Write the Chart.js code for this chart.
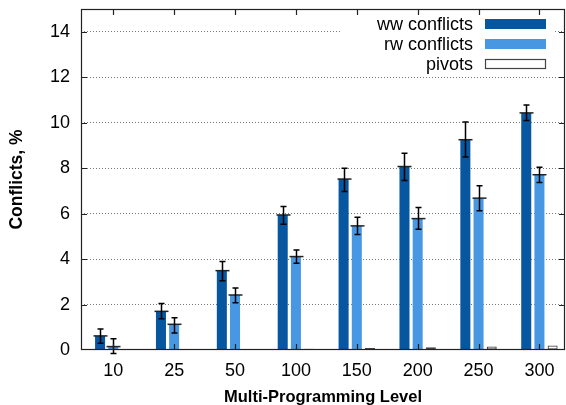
<!DOCTYPE html>
<html><head><meta charset="utf-8">
<script src="https://cdn.jsdelivr.net/npm/chart.js@4/dist/chart.umd.min.js"></script>
<style>html,body{margin:0;padding:0;background:#fff}#wrap{width:566px;height:405px}</style>
</head><body><div id="wrap"><canvas id="c" width="566" height="405"></canvas></div>
<script>
const categories = ['10','25','50','100','150','200','250','300'];
const wwValues = [0.62, 1.70, 3.49, 5.94, 7.52, 8.07, 9.25, 10.43];
const wwLow    = [0.30, 1.38, 3.05, 5.53, 6.97, 7.46, 8.49, 10.10];
const wwHigh   = [0.92, 2.04, 3.89, 6.31, 8.00, 8.66, 10.03, 10.78];
const rwValues = [0.15, 1.13, 2.42, 4.11, 5.46, 5.78, 6.68, 7.71];
const rwLow    = [-0.15, 0.75, 2.08, 3.82, 5.08, 5.31, 6.13, 7.37];
const rwHigh   = [0.50, 1.42, 2.73, 4.40, 5.84, 6.27, 7.22, 8.04];
const pivotValues = [0.004, 0.006, 0.02, 0.05, 0.09, 0.12, 0.15, 0.20];
const yTicks = [0, 2, 4, 6, 8, 10, 12, 14];
const seriesLabels = ['ww conflicts', 'rw conflicts', 'pivots'];

const FAMILY = '"Liberation Sans", Arial, Helvetica, sans-serif';
const WW = '#0656a0', RW = '#4897e2';

const errorBars = {
  id: 'errorBars',
  afterDatasetsDraw(chart) {
    const ctx = chart.ctx, y = chart.scales.y;
    [[0, wwValues, wwLow, wwHigh], [1, rwValues, rwLow, rwHigh]].forEach(([di, vals, lo, hi]) => {
      chart.getDatasetMeta(di).data.forEach((bar, i) => {
        const x = Math.round(bar.x) + 0.5;
        const yv = y.getPixelForValue(vals[i]);
        const yl = y.getPixelForValue(lo[i]);
        const yh = y.getPixelForValue(hi[i]);
        ctx.save();
        ctx.strokeStyle = '#222'; ctx.lineWidth = 1.5;
        ctx.beginPath();
        ctx.moveTo(x - 7, yv); ctx.lineTo(x + 7, yv);
        ctx.stroke();
        ctx.strokeStyle = '#000';
        ctx.beginPath();
        ctx.moveTo(x, yl); ctx.lineTo(x, yh);
        ctx.moveTo(x - 3, yl); ctx.lineTo(x + 3, yl);
        ctx.moveTo(x - 3, yh); ctx.lineTo(x + 3, yh);
        ctx.stroke();
        ctx.restore();
      });
    });
  }
};

const frame = {
  id: 'frame',
  afterDraw(chart) {
    const ctx = chart.ctx, a = chart.chartArea, x = chart.scales.x, y = chart.scales.y;
    ctx.save();
    ctx.fillStyle = '#fff';
    ctx.fillRect(341, 15, 214, 57);
    const rows = [24, 44, 64];
    const fills = [WW, RW, '#fff'];
    ctx.font = '18px ' + FAMILY;
    ctx.textAlign = 'right'; ctx.textBaseline = 'middle';
    seriesLabels.forEach((t, i) => {
      ctx.fillStyle = '#000';
      ctx.fillText(t, 473, rows[i] + 1);
      ctx.fillStyle = fills[i];
      ctx.fillRect(485, rows[i] - 5, 61, 10);
      if (i === 2) {
        ctx.strokeStyle = '#444'; ctx.lineWidth = 1.2;
        ctx.strokeRect(485.5, rows[i] - 4.5, 60, 9);
      }
    });
    ctx.strokeStyle = '#222'; ctx.lineWidth = 1.2;
    ctx.strokeRect(a.left + 0.5, a.top + 0.5, a.right - a.left - 1, a.bottom - a.top - 1);
    ctx.beginPath();
    yTicks.forEach(v => {
      if (v === 0) return;
      const py = Math.round(y.getPixelForValue(v)) + 0.5;
      ctx.moveTo(a.left, py); ctx.lineTo(a.left + 6, py);
      ctx.moveTo(a.right, py); ctx.lineTo(a.right - 6, py);
    });
    categories.forEach((c, i) => {
      const px = Math.round(x.getPixelForValue(i)) + 0.5;
      ctx.moveTo(px, a.top); ctx.lineTo(px, a.top + 6);
      ctx.moveTo(px, a.bottom); ctx.lineTo(px, a.bottom - 6);
    });
    ctx.stroke();
    ctx.restore();
  }
};

const toPoints = vals => vals.map((v, i) => ({ x: i, y: v }));
const noPad = s => { s.paddingTop = 0; s.paddingBottom = 0; s.paddingLeft = 0; s.paddingRight = 0; };

new Chart(document.getElementById('c'), {
  type: 'bar',
  data: {
    datasets: [
      { label: seriesLabels[0], data: toPoints(wwValues), backgroundColor: WW, borderWidth: 0 },
      { label: seriesLabels[1], data: toPoints(rwValues), backgroundColor: RW, borderWidth: 0 },
      { label: seriesLabels[2], data: toPoints(pivotValues), backgroundColor: '#fff', borderColor: '#444', borderWidth: 1.2, borderSkipped: false }
    ]
  },
  options: {
    responsive: false, animation: false, devicePixelRatio: 1,
    layout: { padding: { left: 0, right: 1, top: 9, bottom: 0 } },
    plugins: { legend: { display: false }, tooltip: { enabled: false } },
    datasets: { bar: { categoryPercentage: 0.65, barPercentage: 0.76, grouped: true } },
    scales: {
      x: {
        type: 'linear', min: -0.53, max: 7.42, offset: false,
        grid: { display: false }, border: { display: false },
        afterBuildTicks: s => { s.ticks = categories.map((c, i) => ({ value: i })); },
        afterFit: s => { s.height = 55; noPad(s); },
        ticks: { callback: v => categories[v], font: { family: FAMILY, size: 18 }, color: '#000', padding: 2, maxRotation: 0, autoSkip: false },
        title: { display: true, text: 'Multi-Programming Level', color: '#000',
                 font: { family: FAMILY, size: 16.5, weight: 'bold', lineHeight: 1 }, padding: { top: 0, bottom: -1 } }
      },
      y: {
        min: 0, max: 15,
        afterBuildTicks: s => { s.ticks = yTicks.map(v => ({ value: v })); },
        afterFit: s => { s.width = 81; noPad(s); },
        grid: { drawTicks: false, lineWidth: 1, color: c => (c.tick && c.tick.value === 0) ? 'rgba(0,0,0,0)' : '#7a7a7a' },
        border: { display: false, dash: [1, 2] },
        ticks: { font: { family: FAMILY, size: 18 }, color: '#000', padding: 11 },
        title: { display: true, text: 'Conflicts, %', color: '#000',
                 font: { family: FAMILY, size: 17.5, weight: 'bold', lineHeight: 1 }, padding: { top: 8, bottom: 0 } }
      }
    }
  },
  plugins: [errorBars, frame]
});
</script></body></html>
